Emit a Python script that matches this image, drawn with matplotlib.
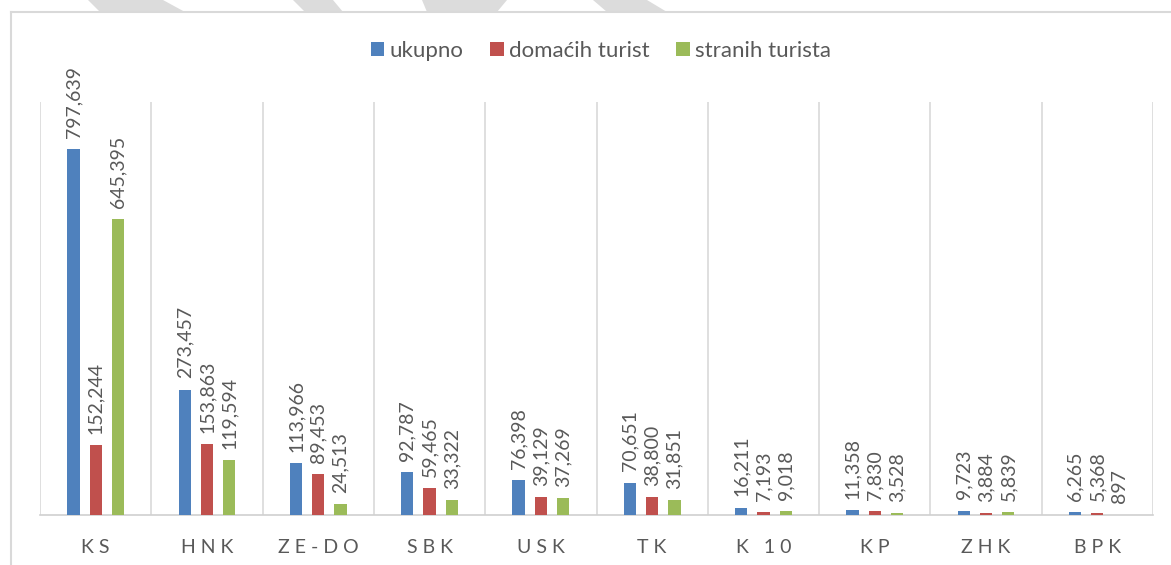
import matplotlib
matplotlib.use("Agg")
import matplotlib.pyplot as plt
from matplotlib.patches import Polygon
from matplotlib.lines import Line2D
import numpy as np

plt.rcParams['font.family'] = ['Lato', 'DejaVu Sans']

categories = ["KS", "HNK", "ZE-DO", "SBK", "USK", "TK", "K 10", "KP", "ZHK", "BPK"]
ukupno = [797639, 273457, 113966, 92787, 76398, 70651, 16211, 11358, 9723, 6265]
domacih = [152244, 153863, 89453, 59465, 39129, 38800, 7193, 7830, 3884, 5368]
stranih = [645395, 119594, 24513, 33322, 37269, 31851, 9018, 3528, 5839, 897]
series_names = ["ukupno", "domaćih turist", "stranih turista"]
colors = ["#4F81BD", "#C0504D", "#9BBB59"]

W, H = 1171, 565
fig = plt.figure(figsize=(W / 100, H / 100), dpi=100)
fig.patch.set_facecolor("white")

def fx(px):
    return px / W

def fy(py):
    return 1 - py / H

# decorative stripes at top
stripes = [
    [(88, 0), (163, 0), (185, 12), (100, 12)],
    [(293, 0), (333, 0), (343, 12), (305, 12)],
    [(422, 0), (507, 0), (497, 12), (427, 12)],
    [(593, 0), (647, 0), (667, 12), (607, 12)],
]
for s in stripes:
    fig.patches.append(Polygon([(fx(x), fy(y)) for x, y in s], closed=True,
                               transform=fig.transFigure, facecolor="#DCDCDC",
                               edgecolor="none", zorder=0))

# chart frame
fig.lines.append(Line2D([fx(11), fx(11)], [fy(12), fy(H + 5)], transform=fig.transFigure,
                        color="#D9D9D9", lw=1.5))
fig.lines.append(Line2D([fx(11), fx(W + 5)], [fy(12), fy(12)], transform=fig.transFigure,
                        color="#D9D9D9", lw=1.5))

left, right, top, base = 40, 1153, 102, 515
ax = fig.add_axes([fx(left), fy(base), fx(right - left), (base - top) / H])
ax.set_xlim(-0.5, len(categories) - 0.5)
ax.set_ylim(0, 900000)

x = np.arange(len(categories))
width = 0.11
offsets = [-0.2, 0.0, 0.2]
data = [ukupno, domacih, stranih]
for vals, off, col, name in zip(data, offsets, colors, series_names):
    ax.bar(x + off, vals, width, color=col, label=name, zorder=3)
    for xi, v in zip(x + off, vals):
        ax.annotate(f"{v:,}", (xi, v), xytext=(0, 8), textcoords="offset points",
                    rotation=90, ha="center", va="bottom", fontsize=14,
                    color="#595959")

# separators
for i in range(len(categories) + 1):
    ax.axvline(i - 0.5, color="#D9D9D9", lw=1.2, zorder=1)

for sp in ["top", "right", "left"]:
    ax.spines[sp].set_visible(False)
ax.spines["bottom"].set_color("#D0D0D0")
ax.spines["bottom"].set_linewidth(1.2)
ax.set_yticks([])
ax.set_xticks(x)
ax.set_xticklabels([" ".join(c) for c in categories], fontsize=14, color="#595959")
ax.tick_params(axis="x", length=0, pad=17)

fig.legend(loc="center", bbox_to_anchor=(fx(601), fy(51)), ncol=3, frameon=False,
           fontsize=16, handlelength=0.6, handleheight=0.6, handletextpad=0.25,
           columnspacing=1.2, labelcolor="#595959")

fig.savefig("out.png", dpi=100, facecolor="white")
